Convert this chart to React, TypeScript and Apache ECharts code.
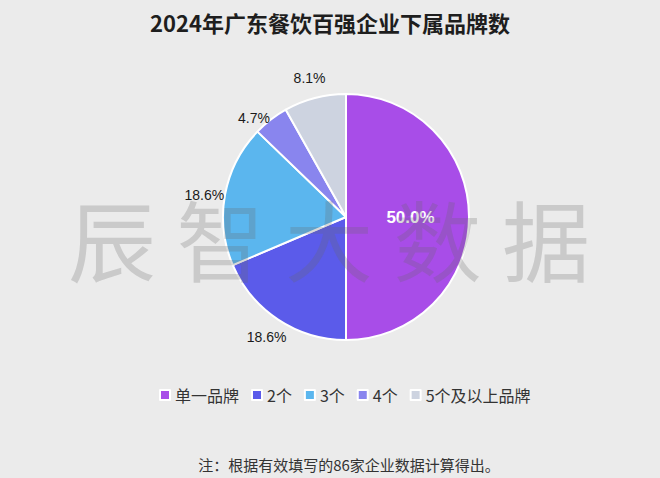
import React, { useEffect, useRef } from "react";
import * as echarts from "echarts";

const categories = ["单一品牌", "2个", "3个", "4个", "5个及以上品牌"];
const counts = [43, 16, 16, 4, 7];
const colors = ["#a84de8", "#5b5bea", "#5bb6ee", "#8985ee", "#cdd3e0"];
const watermarkChars = ["辰", "智", "大", "数", "据"];
const titleText = "2024年广东餐饮百强企业下属品牌数";
const noteText = "注：根据有效填写的86家企业数据计算得出。";

export default function App() {
  const ref = useRef<HTMLDivElement>(null);
  useEffect(() => {
    if (!ref.current) return;
    const chart = echarts.init(ref.current, null, { renderer: "svg" });
    const font = "'Noto Sans CJK SC', 'Noto Sans', sans-serif";
    const pct = (p: any) => `${Number(p.percent).toFixed(1)}%`;
    const mainData = categories.map((name, i) => ({
      name,
      value: counts[i],
      itemStyle: { color: colors[i] },
      label: { show: i === 0 },
    }));
    const outerData = categories.map((name, i) => ({
      name,
      value: counts[i],
      label: {
        show: i !== 0,
        offset: i === 3 ? [-4, 15] : i === 2 ? [0, 4] : [0, 0],
      },
    }));
    chart.setOption({
      animation: false,
      backgroundColor: "#ebebeb",
      color: colors,
      title: [
        {
          text: titleText,
          left: "center",
          top: 6,
          textStyle: { fontFamily: font, fontSize: 22, fontWeight: "bold", color: "#1e1e1e" },
        },
        {
          text: noteText,
          left: 344,
          textAlign: "center",
          top: 452,
          textStyle: { fontFamily: font, fontSize: 15, fontWeight: "normal", color: "#333" },
        },
      ],
      legend: {
        data: categories,
        left: 154,
        top: 382,
        icon: "rect",
        itemWidth: 10,
        itemHeight: 10,
        itemGap: 12,
        textStyle: { fontFamily: font, fontSize: 16, color: "#333" },
      },
      series: [
        {
          type: "pie",
          name: "main",
          center: [346, 217],
          radius: [0, 123],
          startAngle: 90,
          clockwise: true,
          percentPrecision: 1,
          itemStyle: { borderColor: "#ffffff", borderWidth: 2 },
          label: {
            position: "inside",
            formatter: pct,
            color: "#ffffff",
            fontFamily: "Arial, 'Liberation Sans', sans-serif",
            fontWeight: "bold",
            fontSize: 17,
          },
          labelLine: { show: false },
          emphasis: { disabled: true },
          data: mainData,
          z: 2,
        },
        {
          type: "pie",
          name: "labels",
          center: [346, 217],
          radius: [123, 159],
          startAngle: 90,
          clockwise: true,
          percentPrecision: 1,
          silent: true,
          itemStyle: { color: "rgba(0,0,0,0)", borderWidth: 0 },
          label: {
            position: "inside",
            formatter: pct,
            color: "#1a1a1a",
            fontFamily: "Arial, 'Liberation Sans', sans-serif",
            fontSize: 14,
          },
          labelLine: { show: false },
          emphasis: { disabled: true },
          data: outerData,
          z: 3,
        },
      ],
      graphic: watermarkChars.map((ch, i) => ({
        type: "text",
        left: 68 + i * 108.5,
        top: 192,
        z: 100,
        silent: true,
        style: {
          text: ch,
          fontSize: 88,
          fontFamily: font,
          fontWeight: "normal",
          fill: "rgba(105,105,105,0.25)",
        },
      })),
    });
    return () => chart.dispose();
  }, []);
  return (
    <div
      ref={ref}
      style={{ position: "fixed", left: 0, top: 0, width: 660, height: 478 }}
    />
  );
}
